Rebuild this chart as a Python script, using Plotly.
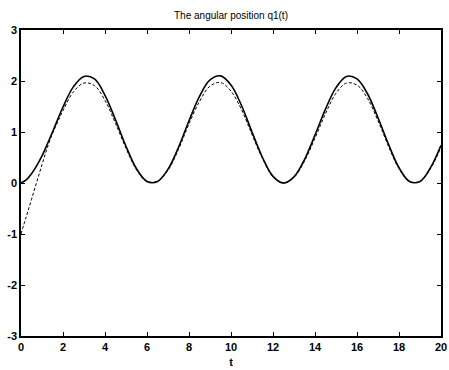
import plotly.graph_objects as go

# solid curve: q1(t)
t_solid = [0, 0.25, 0.5, 0.75, 1.0, 1.25, 1.5, 2.0, 2.5, 3.0, 3.5, 4.0, 4.5, 5.0, 5.5, 6.0, 6.5,
           7.0, 7.5, 8.0, 8.5, 9.0, 9.5, 10.0, 10.5, 11.0, 11.5, 12.0, 12.5, 13.0, 13.5,
           14.0, 14.5, 15.0, 15.5, 16.0, 16.5, 17.0, 17.5, 18.0, 18.5, 19.0, 19.5, 20.0]
q_solid = [0.0, 0.06, 0.18, 0.34, 0.53, 0.76, 1.0, 1.49, 1.89, 2.09, 2.04, 1.72, 1.24, 0.72,
           0.28, 0.03, 0.03, 0.27, 0.70, 1.22, 1.70, 2.02, 2.10, 1.92, 1.52, 1.00, 0.50, 0.13,
           0.0, 0.12, 0.46, 0.94, 1.45, 1.87, 2.09, 2.04, 1.75, 1.28, 0.76, 0.30, 0.03, 0.03,
           0.30, 0.74]

# dashed curve: reference / estimate
t_dash = [0, 0.25, 0.5, 0.75, 1.0, 1.25, 1.5, 1.75, 2.0, 2.5, 3.0, 3.5, 4.0, 4.5, 5.0, 5.5, 6.0,
          6.5, 7.0, 7.5, 8.0, 8.5, 9.0, 9.5, 10.0, 10.5, 11.0, 11.5, 12.0, 12.5, 13.0, 13.5,
          14.0, 14.5, 15.0, 15.5, 16.0, 16.5, 17.0, 17.5, 18.0, 18.5, 19.0, 19.5, 20.0]
q_dash = [-1.0, -0.66, -0.32, 0.02, 0.36, 0.69, 0.97, 1.20, 1.42, 1.79, 1.96, 1.91, 1.62, 1.17,
          0.68, 0.26, 0.03, 0.03, 0.25, 0.66, 1.16, 1.60, 1.90, 1.97, 1.80, 1.44, 0.95, 0.48,
          0.12, 0.0, 0.11, 0.43, 0.88, 1.36, 1.76, 1.96, 1.92, 1.66, 1.22, 0.72, 0.28, 0.03,
          0.03, 0.28, 0.70]

x_ticks = list(range(0, 21, 2))
y_ticks = [-3, -2, -1, 0, 1, 2, 3]

FONT = "Liberation Sans, Arial, sans-serif"

fig = go.Figure()
fig.add_trace(go.Scatter(x=t_dash, y=q_dash, mode="lines",
                         line=dict(color="black", width=1, dash="3px,2px", shape="spline", smoothing=1.0)))
fig.add_trace(go.Scatter(x=t_solid, y=q_solid, mode="lines",
                         line=dict(color="black", width=1.6, shape="spline", smoothing=1.0)))

axis_common = dict(showgrid=False, zeroline=False, showline=True, linecolor="black", linewidth=1.5,
                   mirror="ticks", ticks="inside", ticklen=4, tickcolor="black", tickwidth=1,
                   tickfont=dict(family=FONT, size=11, color="black", weight="bold"))

fig.update_layout(
    width=449, height=370,
    margin=dict(l=21, r=8, t=30, b=34),
    paper_bgcolor="white", plot_bgcolor="white",
    showlegend=False,
    title=dict(text="The angular position q1(t)", x=0.5, xref="paper", y=1 - 15 / 370,
               yref="container", xanchor="center", yanchor="middle",
               font=dict(family=FONT, size=10, color="black")),
    xaxis=dict(range=[0, 20], tickvals=x_ticks, ticktext=[str(v) for v in x_ticks],
               title=dict(text="t", standoff=6,
                          font=dict(family=FONT, size=11, color="black", weight="bold")),
               automargin=False, **axis_common),
    yaxis=dict(range=[-3, 3], tickvals=y_ticks, ticktext=[str(v) for v in y_ticks],
               automargin=False, **axis_common),
)

fig.write_html("out.html",
               config={"displayModeBar": False},
               post_script="document.body.style.margin='0';document.body.style.overflow='hidden';")
